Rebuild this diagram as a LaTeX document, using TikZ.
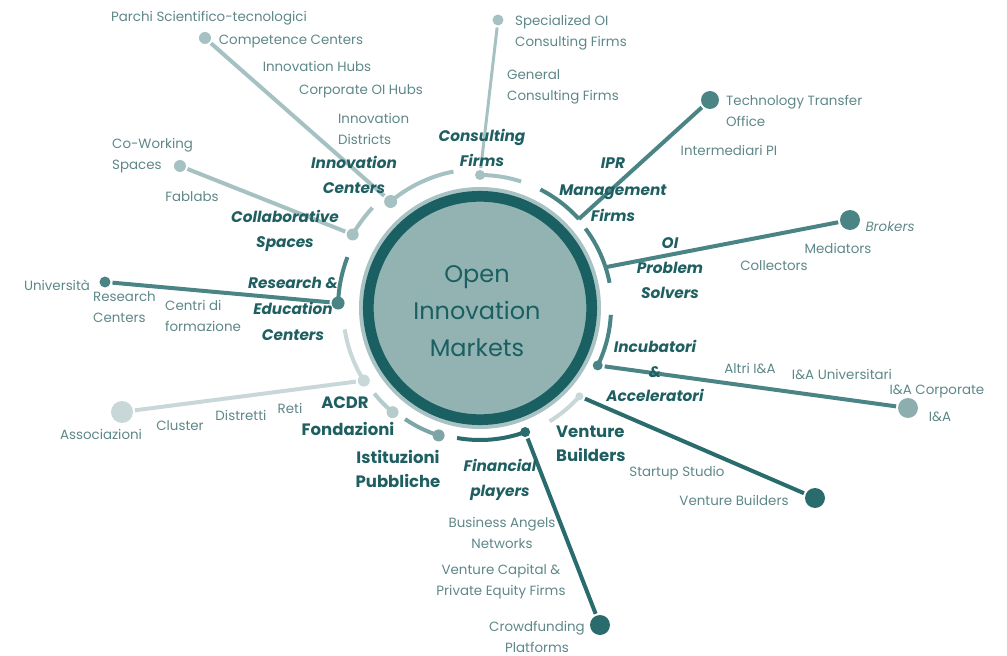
\documentclass[tikz,border=0pt]{standalone}
\usepackage{fontspec}
\setmainfont{Poppins}

\definecolor{ringdark}{HTML}{1A5F61}
\definecolor{ringlight}{HTML}{A9C3C4}
\definecolor{core}{HTML}{93B3B3}
\definecolor{catteal}{HTML}{1F5F61}
\definecolor{itemgray}{HTML}{5E8788}
\definecolor{lightteal}{HTML}{A6C1C2}
\definecolor{paleteal}{HTML}{C8D7D8}
\definecolor{midteal}{HTML}{4A8485}
\definecolor{deepteal}{HTML}{2A6C6D}
\definecolor{softteal}{HTML}{7EA5A6}
\definecolor{mistteal}{HTML}{B5CBCC}
\definecolor{tipteal}{HTML}{8CAEAF}

\tikzset{
  item/.style={text=itemgray,font=\fontsize{13.4}{21}\selectfont,inner sep=0pt,align=center},
  market/.style={text=catteal,font=\fontsize{15.3}{25}\selectfont\bfseries\itshape,inner sep=0pt,align=center},
  marketup/.style={text=catteal,font=\fontsize{16.5}{24}\selectfont\bfseries,inner sep=0pt,align=center},
  hub/.style={circle,inner sep=0pt,minimum size=11},
  tip/.style={circle,inner sep=0pt,minimum size=#1}
}

\begin{document}
\begin{tikzpicture}[x=1pt,y=1pt]
  \useasboundingbox (-480,-348) rectangle (527,308);

  % the market in the middle
  \fill[ringlight] (0,0) circle (121);
  \filldraw[fill=core,draw=ringdark,line width=10.7] (0,0) circle (111.7);
  \node[text=ringdark,font=\fontsize{24}{37}\selectfont,align=center,inner sep=0pt] (Markets) at (-3,-3)
    {Open\\Innovation\\Markets};

  \begin{scope}[line width=4]
    % Innovation Centers
    \draw[lightteal] (130:139) arc (130:101:139);
    \node[hub,fill=lightteal,minimum size=13] (Innovation hub) at (130:139) {};
    \node[tip=12,fill=lightteal] (Innovation tip) at (-275,270) {};
    \draw[lightteal] (Innovation hub) -- (Innovation tip);

    % Consulting Firms
    \draw[lightteal] (90:133) arc (90:72:133);
    \node[hub,fill=lightteal,minimum size=10] (Consulting hub) at (90:133) {};
    \node[tip=11,fill=lightteal] (Consulting tip) at (18,288) {};
    \draw[lightteal,line width=3] (Consulting hub) -- (Consulting tip);

    % IPR Management Firms
    \draw[midteal] (63:133) arc (63:42:133);
    \coordinate (IPR hub) at (42:133);
    \node[tip=18,fill=midteal] (IPR tip) at (230,208) {};
    \draw[midteal,line join=round] (IPR hub) -- (IPR tip);

    % OI Problem Solvers
    \draw[midteal] (37:132) arc (37:11:132);
    \coordinate (OI hub) at (18:132);
    \node[tip=20,fill=midteal] (OI tip) at (370,88) {};
    \draw[midteal] (OI hub) -- (OI tip);

    % Incubatori & Acceleratori
    \draw[midteal] (-3:131) arc (-3:-26:131);
    \node[hub,fill=midteal,minimum size=10] (Incubatori hub) at (-26:131) {};
    \node[tip=20,fill=tipteal] (Incubatori tip) at (428,-100) {};
    \draw[midteal] (Incubatori hub) -- (Incubatori tip);

    % Venture Builders
    \draw[paleteal] (-41.6:133) arc (-41.6:-58.4:133);
    \node[hub,fill=paleteal,minimum size=8] (Venture hub) at (-41.6:133) {};
    \node[tip=20,fill=deepteal] (Venture tip) at (335,-190) {};
    \draw[deepteal] (Venture hub) -- (Venture tip);

    % Financial players
    \draw[deepteal] (-70:132) arc (-70:-100:132);
    \node[hub,fill=deepteal,minimum size=10] (Financial hub) at (-70:132) {};
    \node[tip=20,fill=deepteal] (Financial tip) at (120,-317) {};
    \draw[deepteal] (Financial hub) -- (Financial tip);

    % Istituzioni Pubbliche, Fondazioni
    \draw[softteal] (-108:134) arc (-108:-124:134);
    \node[hub,fill=softteal,minimum size=12] (Istituzioni hub) at (-108:134) {};
    \draw[mistteal] (-130:136) arc (-130:-141:136);
    \node[hub,fill=mistteal,minimum size=12] (Fondazioni hub) at (-130:136) {};

    % ACDR
    \draw[paleteal] (-148:137) arc (-148:-171:137);
    \node[hub,fill=paleteal,minimum size=12] (ACDR hub) at (-148:137) {};
    \node[tip=22,fill=paleteal] (ACDR tip) at (-358,-104) {};
    \draw[paleteal] (ACDR hub) -- (ACDR tip);

    % Research & Education Centers
    \draw[midteal] (178:142) arc (178:159:142);
    \node[hub,fill=midteal,minimum size=13] (Research hub) at (178:142) {};
    \node[tip=11,fill=midteal] (Research tip) at (-375,26) {};
    \draw[midteal] (Research hub) -- (Research tip);

    % Collaborative Spaces
    \draw[lightteal] (150:147) arc (150:137:147);
    \node[hub,fill=lightteal,minimum size=12] (Collaborative hub) at (150:147) {};
    \node[tip=12,fill=lightteal] (Collaborative tip) at (-300,142) {};
    \draw[lightteal] (Collaborative hub) -- (Collaborative tip);
  \end{scope}

  % the markets
  \node[market] (Innovation Centers) at (-126,133.5) {Innovation\\Centers};
  \node[market] (Consulting Firms) at (2,160.5) {Consulting\\Firms};
  \node[market,font=\fontsize{15.3}{26.5}\selectfont\bfseries\itshape] (IPR Firms) at (133,118) {IPR\\Management\\Firms};
  \node[market] (OI Solvers) at (190,40) {OI\\Problem\\Solvers};
  \node[market,font=\fontsize{15.3}{24.5}\selectfont\bfseries\itshape] (Incubatori) at (175,-63) {Incubatori\\\&\\Acceleratori};
  \node[marketup,anchor=west,align=left] (Venture Builders) at (76,-135.5) {Venture\\Builders};
  \node[market] (Financial players) at (20,-171.5) {Financial\\players};
  \node[marketup] (Istituzioni) at (-82,-161) {Istituzioni\\Pubbliche};
  \node[marketup] (Fondazioni) at (-132,-121) {Fondazioni};
  \node[marketup] (ACDR) at (-135,-95) {ACDR};
  \node[market,font=\fontsize{15.3}{26}\selectfont\bfseries\itshape] (Research Centers) at (-187,-1) {Research \&\\Education\\Centers};
  \node[market] (Collaborative Spaces) at (-195,77.5) {Collaborative\\Spaces};

  % the players
  \node[item] (Parchi) at (-271,290) {Parchi Scientifico-tecnologici};
  \node[item] (Competence) at (-189,266) {Competence Centers};
  \node[item] (Hubs) at (-163,242) {Innovation Hubs};
  \node[item] (Corporate Hubs) at (-119,217) {Corporate OI Hubs};
  \node[item,anchor=west,align=left] (Districts) at (-142,179) {Innovation\\Districts};

  \node[item,anchor=west,align=left] (Specialized) at (35,275.5) {Specialized OI\\Consulting Firms};
  \node[item,anchor=west,align=left] (General) at (27,221.5) {General\\Consulting Firms};

  \node[item,anchor=west,align=left] (TTO) at (246,197) {Technology Transfer\\Office};
  \node[item] (Intermediari) at (249,158) {Intermediari PI};

  \node[item,font=\fontsize{13.4}{21}\selectfont\itshape] (Brokers) at (410,81) {Brokers};
  \node[item] (Mediators) at (358,60) {Mediators};
  \node[item] (Collectors) at (294,42) {Collectors};

  \node[item] (Altri) at (270,-60) {Altri I\&A};
  \node[item] (Universitari) at (362,-66) {I\&A Universitari};
  \node[item] (Corporate) at (457,-83) {I\&A Corporate};
  \node[item] (IA) at (460,-109) {I\&A};

  \node[item] (Startup) at (197,-165) {Startup Studio};
  \node[item] (Builders) at (254,-192) {Venture Builders};

  \node[item] (Angels) at (22,-224.5) {Business Angels\\Networks};
  \node[item] (Capital) at (21,-273.5) {Venture Capital \&\\Private Equity Firms};
  \node[item] (Crowdfunding) at (57,-329) {Crowdfunding\\Platforms};

  \node[item] (Associazioni) at (-379,-126) {Associazioni};
  \node[item] (Cluster) at (-300,-118) {Cluster};
  \node[item] (Distretti) at (-239,-107) {Distretti};
  \node[item] (Reti) at (-190,-100) {Reti};

  \node[item] (Universita) at (-423,23) {Università};
  \node[item,anchor=west,align=left] (Research) at (-387,0.5) {Research\\Centers};
  \node[item,anchor=west,align=left] (Centri) at (-315,-7.5) {Centri di\\formazione};

  \node[item,anchor=west,align=left] (Coworking) at (-368,152.5) {Co-Working\\Spaces};
  \node[item] (Fablabs) at (-288,111) {Fablabs};
\end{tikzpicture}
\end{document}
